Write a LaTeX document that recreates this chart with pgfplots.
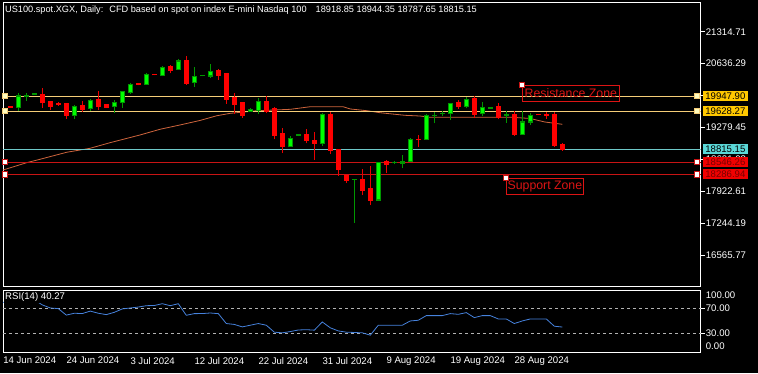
\documentclass[border=0pt]{standalone}
\usepackage{pgfplots}
\pgfplotsset{compat=1.18}
\usepackage{pgfplotstable}
\usepackage{fontspec}
\setmainfont{Liberation Sans}
\definecolor{bullbody}{RGB}{0,255,0}
\definecolor{bullwick}{RGB}{0,150,0}
\definecolor{bearc}{RGB}{255,0,0}
\definecolor{bearwick}{RGB}{235,0,0}
\definecolor{resline}{RGB}{245,205,120}
\definecolor{resbox}{RGB}{255,200,0}
\definecolor{curline}{RGB}{110,200,200}
\definecolor{curbox}{RGB}{90,215,215}
\definecolor{supline}{RGB}{200,20,20}
\definecolor{supbox}{RGB}{240,0,0}
\definecolor{suptext}{RGB}{120,0,0}
\definecolor{maline}{RGB}{205,100,60}
\definecolor{rsiline}{RGB}{70,130,220}
\definecolor{zonered}{RGB}{220,20,20}

\pgfplotstableread{
i o h l c
0 19720 19730 19700 19710
1 19701 20007 19631 19950
2 19950 20020 19850 19960
3 19985 20010 19975 19995
4 19986 20119 19701 19807
5 19829 19850 19652 19737
6 19790 19820 19745 19780
7 19780 19807 19461 19531
8 19531 19760 19461 19731
9 19737 19850 19616 19667
10 19680 19880 19630 19858
11 19865 20056 19652 19722
12 19759 19780 19690 19716
13 19722 19865 19595 19816
14 19816 20056 19701 20035
15 20028 20232 19998 20204
16 20210 20230 20175 20195
17 20198 20444 20190 20416
18 20405 20420 20390 20400
19 20380 20580 20365 20559
20 20572 20601 20432 20502
21 20516 20729 20502 20693
22 20693 20799 20190 20219
23 20232 20559 20147 20368
24 20375 20395 20365 20385
25 20374 20629 20332 20474
26 20487 20523 20296 20395
27 20417 20420 19780 19880
28 19913 20020 19567 19780
29 19807 19822 19483 19540
30 19631 19690 19620 19673
31 19652 19913 19567 19828
32 19822 19956 19582 19631
33 19674 19722 19030 19122
34 19143 19264 18746 18873
35 18873 19100 18870 19051
36 19115 19145 19095 19125
37 19122 19250 18945 19000
38 19015 19192 18591 18945
39 18945 19582 18895 19567
40 19567 19616 18718 18788
41 18803 18818 18258 18400
42 18258 18258 18109 18151
43 18180 18190 17260 18185
44 18187 18400 17848 17954
45 17975 18464 17636 17742
46 17742 18550 17735 18534
47 18555 18591 18308 18506
48 18530 18570 18500 18540
49 18520 18688 18415 18555
50 18555 19050 18540 19030
51 19035 19122 18860 19025
52 19030 19560 19015 19540
53 19535 19610 19370 19545
54 19575 19630 19530 19585
55 19582 19808 19440 19795
56 19808 19865 19680 19722
57 19722 19935 19688 19880
58 19892 19950 19476 19567
59 19582 19828 19525 19710
60 19695 19715 19685 19705
61 19722 19795 19455 19489
62 19540 19638 19383 19550
63 19546 19638 19100 19136
64 19136 19638 19122 19398
65 19398 19595 19334 19540
66 19555 19560 19545 19550
67 19550 19610 19468 19540
68 19546 19610 18873 18909
69 18918.85 18944.35 18787.65 18815.15
}\candles

\pgfplotstableread{
i v
-0.9 18379
2.05 18534
3.71 18606
7.05 18755
9.96 18839
12.46 18958
16.21 19122
18.71 19243
21.2 19334
23.7 19430
25.8 19530
27.5 19582
30.8 19637
35 19667
37.5 19722
41.6 19722
42.5 19674
44.6 19637
46.2 19595
49.3 19540
51.2 19525
52.5 19497
62.8 19497
65 19472
66.8 19398
69 19349
}\maline

\pgfplotstableread{
i v
-0.9 80
0 82
1 86
2 86
3 84
4 76
5 71
6 70
7 59.5
8 62.5
9 62
10 66
11 62.5
12 60.3
13 64
14 69.5
15 71
16 72.5
17 74.7
18 75
19 77.9
20 74.7
21 77.9
22 59.2
23 61.9
24 62
25 62.9
26 61.9
27 45.9
28 44.5
29 40.5
30 43.2
31 45.9
32 43.2
33 32
34 30.9
35 33
36 35.5
37 36
38 35.2
39 48.5
40 39
41 34
42 32
43 31.5
44 30.9
45 27.2
46 43.2
47 43.2
48 43.2
49 43.2
50 50.1
51 51.2
52 58.7
53 58.7
54 58.7
55 61.9
56 60.8
57 63.5
58 55.5
59 58.7
60 58.7
61 53.3
62 53.3
63 45.9
64 50.1
65 53.3
66 53.3
67 53.3
68 41.6
69 40.27
}\rsi

\newcommand{\tickfont}{\fontsize{9.6}{10}\selectfont}

\begin{document}
\begin{tikzpicture}[x=1pt,y=1pt]
\fill[black] (0,0) rectangle (758,373);
\useasboundingbox (0,0) rectangle (758,373);

% ---------------- main price panel ----------------
\begin{axis}[
  at={(3pt,86.3pt)}, anchor=south west,
  scale only axis, width=697.7pt, height=284.4pt,
  xmin=-0.9125, xmax=86.3, ymin=15901, ymax=21939,
  axis line style={white, line width=0.8pt},
  xtick=\empty, scaled y ticks=false, scaled x ticks=false,
  ytick={16565.77,17244.19,17922.61,18601.03,19279.45,19957.87,20636.29,21314.71},
  yticklabels={16565.77,17244.19,17922.61,18601.03,19279.45,19957.87,20636.29,21314.71},
  ytick pos=right, yticklabel pos=right, tick align=outside,
  major tick length=4pt, tick style={white, line width=0.8pt},
  yticklabel style={font=\tickfont, text=white, inner xsep=1pt},
  clip=false,
]
% moving average
\addplot[maline, line width=0.8pt, forget plot] table[x=i, y=v] {\maline};

% horizontal levels
\addplot[resline, line width=0.8pt, forget plot] coordinates {(-0.9125,19947.90) (86.3,19947.90)};
\addplot[resline, line width=0.8pt, forget plot] coordinates {(-0.9125,19628.27) (86.3,19628.27)};
\addplot[curline, line width=0.8pt, forget plot] coordinates {(-0.9125,18815.15) (86.3,18815.15)};
\addplot[supline, line width=0.8pt, forget plot] coordinates {(-0.9125,18546.26) (86.3,18546.26)};
\addplot[supline, line width=0.8pt, forget plot] coordinates {(-0.9125,18286.94) (86.3,18286.94)};

% wicks (low to high)
\addplot[y filter/.expression={\thisrow{c}>=\thisrow{o} ? y : nan},
  quiver={u=0, v=\thisrow{h}-\thisrow{l}}, draw=bullwick, line width=1pt, mark=none, forget plot]
  table[x=i, y=l] {\candles};
\addplot[y filter/.expression={\thisrow{c}<\thisrow{o} ? y : nan},
  quiver={u=0, v=\thisrow{h}-\thisrow{l}}, draw=bearwick, line width=1pt, mark=none, forget plot]
  table[x=i, y=l] {\candles};
% bullish bodies: dark green outline, lime fill
\addplot[y filter/.expression={\thisrow{c}>=\thisrow{o} ? y : nan},
  quiver={u=0, v=\thisrow{c}-\thisrow{o}+22}, draw=bullwick, line width=5pt, mark=none, forget plot]
  table[x=i, y expr=\thisrow{o}-11] {\candles};
\addplot[y filter/.expression={\thisrow{c}>=\thisrow{o}+40 ? y : nan},
  quiver={u=0, v=\thisrow{c}-\thisrow{o}-22}, draw=bullbody, line width=3.2pt, mark=none, forget plot]
  table[x=i, y expr=\thisrow{o}+11] {\candles};
% bearish bodies
\addplot[y filter/.expression={\thisrow{c}<\thisrow{o} ? y : nan},
  quiver={u=0, v=\thisrow{o}-\thisrow{c}+22}, draw=bearc, line width=5pt, mark=none, forget plot]
  table[x=i, y expr=\thisrow{c}-11] {\candles};

% line end handles
\addplot[only marks, mark=square*, mark size=2.6pt, forget plot,
  mark options={fill=yellow!25!white, draw=resline, line width=0.8pt}]
  coordinates {(-0.66,19947.90) (-0.66,19628.27) (85.84,19947.90) (85.84,19628.27)};
\addplot[only marks, mark=square*, mark size=2.6pt, forget plot,
  mark options={fill=white, draw=supline, line width=0.8pt}]
  coordinates {(-0.66,18546.26) (-0.66,18286.94) (85.84,18546.26) (85.84,18286.94)};

% zone labels
\node[draw=zonered, text=zonered, anchor=north west, minimum width=97pt, minimum height=16pt,
  inner sep=0pt, line width=0.8pt, font=\fontsize{12.3}{13}\selectfont]
  at (axis cs:63.96,20183) {Resistance Zone};
\node[draw=zonered, text=zonered, anchor=north west, minimum width=77pt, minimum height=16pt,
  inner sep=0pt, line width=0.8pt, font=\fontsize{12.3}{13}\selectfont]
  at (axis cs:61.96,18209) {Support Zone};
\addplot[only marks, mark=square*, mark size=2.2pt, forget plot,
  mark options={fill=white, draw=supline, line width=0.8pt}]
  coordinates {(63.96,20183) (61.96,18209)};

% price boxes
\node[fill=resbox, text=black, anchor=west, xshift=2pt, minimum width=45pt, minimum height=10pt, inner sep=0pt, font=\tickfont] at (axis cs:86.3,19947.90) {19947.90};
\node[fill=resbox, text=black, anchor=west, xshift=2pt, minimum width=45pt, minimum height=10pt, inner sep=0pt, font=\tickfont] at (axis cs:86.3,19628.27) {19628.27};
\node[fill=curbox, text=black, anchor=west, xshift=2pt, minimum width=45pt, minimum height=10pt, inner sep=0pt, font=\tickfont] at (axis cs:86.3,18815.15) {18815.15};
\node[fill=supbox, text=suptext, anchor=west, xshift=2pt, minimum width=45pt, minimum height=10pt, inner sep=0pt, font=\tickfont] at (axis cs:86.3,18546.26) {18546.26};
\node[fill=supbox, text=suptext, anchor=west, xshift=2pt, minimum width=45pt, minimum height=10pt, inner sep=0pt, font=\tickfont] at (axis cs:86.3,18286.94) {18286.94};
\end{axis}

% ---------------- RSI panel ----------------
\begin{axis}[
  at={(3pt,21pt)}, anchor=south west,
  scale only axis, width=697.7pt, height=62pt,
  xmin=-0.9125, xmax=86.3, ymin=0, ymax=100,
  axis line style={white, line width=0.8pt},
  scaled y ticks=false, scaled x ticks=false,
  xtick={-0.9,7,15,23,31,39,47,55,63},
  xticklabels={14 Jun 2024,24 Jun 2024,3 Jul 2024,12 Jul 2024,22 Jul 2024,31 Jul 2024,9 Aug 2024,19 Aug 2024,28 Aug 2024},
  xtick pos=bottom, xtick style={draw=none},
  xticklabel style={anchor=north west, inner sep=0pt, yshift=-1pt, font=\tickfont, text=white},
  ytick={30,70}, yticklabels={30.00,70.00},
  ytick pos=right, yticklabel pos=right, tick align=outside,
  major tick length=4pt, ytick style={white, line width=0.8pt},
  yticklabel style={font=\tickfont, text=white, inner xsep=1pt},
  clip=false,
]
\addplot[gray!60!white, line width=0.7pt, dash pattern=on 3pt off 3pt, forget plot] coordinates {(-0.9125,70) (86.3,70)};
\addplot[gray!60!white, line width=0.7pt, dash pattern=on 3pt off 3pt, forget plot] coordinates {(-0.9125,30) (86.3,30)};
\addplot[rsiline, line width=0.8pt, forget plot] table[x=i, y=v] {\rsi};
\node[anchor=north west, fill=black, inner sep=1pt, text=white, font=\tickfont, xshift=1pt, yshift=-1.5pt] at (rel axis cs:0,1) {RSI(14) 40.27};
\node[anchor=west, text=white, inner sep=0pt, font=\tickfont, xshift=5pt] at (axis cs:86.3,92) {100.00};
\node[anchor=west, text=white, inner sep=0pt, font=\tickfont, xshift=5pt] at (axis cs:86.3,10) {0.00};
\end{axis}

% title
\node[anchor=west, text=white, inner sep=0pt, font=\fontsize{9.2}{10}\selectfont] at (5,363)
  {US100.spot.XGX, Daily:\hspace{6pt}CFD based on spot on index E-mini Nasdaq 100\hspace{9pt}18918.85 18944.35 18787.65 18815.15};
\end{tikzpicture}
\end{document}
